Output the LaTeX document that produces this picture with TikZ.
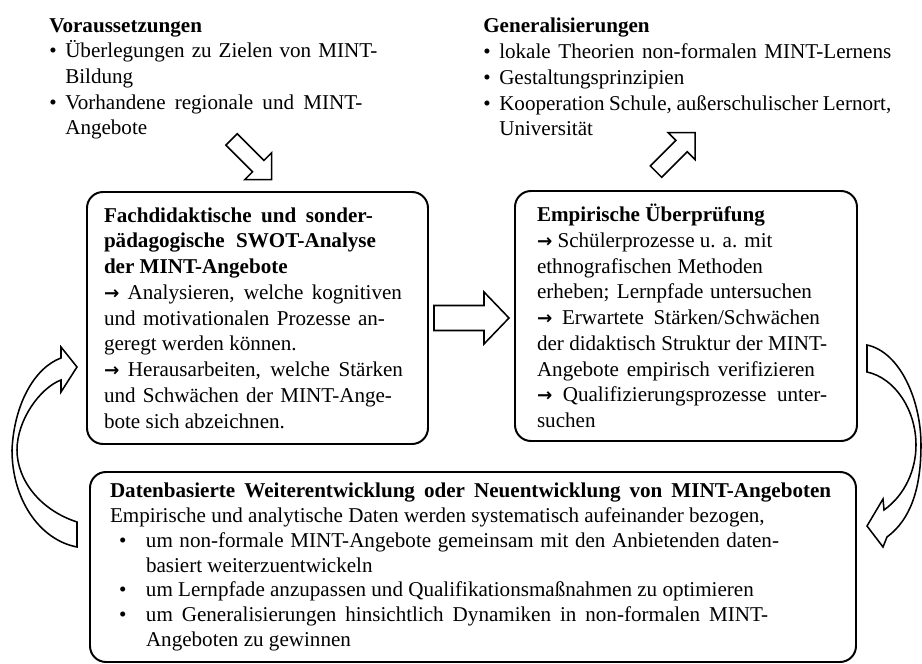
\documentclass[tikz,border=0pt]{standalone}
\usepackage{fontspec}
\setmainfont{Liberation Serif}
\newfontfamily\arrowfont{DejaVu Sans}
\usetikzlibrary{positioning, calc}

\newcommand{\jl}[2]{\leavevmode\hbox to #1{\spaceskip=0pt\xspaceskip=0pt #2}}
\newcommand{\rarr}{{\arrowfont\bfseries\fontsize{13}{13}\selectfont →}}
\newcommand{\bul}{\makebox[0.4cm][l]{\textbullet}}
\newcommand{\ind}{\hspace*{0.4cm}}
\newcommand{\bbul}{\hspace*{0.225cm}\makebox[0.675cm][l]{\textbullet}}
\newcommand{\bind}{\hspace*{0.9cm}}

\tikzset{
  mainbox/.style={draw, line width=1.4pt, rounded corners=0.4cm, align=justify, inner ysep=0pt},
  blockarrow/.style={draw, line width=1.1pt, fill=white, line join=miter},
  txt/.style={align=left, inner sep=0pt, anchor=north west}
}

\begin{document}
\begin{tikzpicture}[every node/.style={font=\fontsize{15}{18.3}\selectfont}]
  \useasboundingbox (0,0) rectangle (23.05,16.6);

  % Top text blocks
  \node[txt] (pre) at (1.225,16.15) {
    \textbf{Voraussetzungen}\\
    \bul\jl{7.8cm}{Überlegungen zu Zielen von MINT-}\\
    \ind Bildung\\
    \bul\jl{7.425cm}{Vorhandene regionale und MINT-}\\
    \ind Angebote};
  \node[txt] (gen) at (12.075,16.15) {
    \textbf{Generalisierungen}\\
    \bul\jl{9.8cm}{lokale Theorien non-formalen MINT-Lernens}\\
    \bul Gestaltungsprinzipien\\
    \bul\jl{9.8cm}{Kooperation Schule, außerschulischer Lernort,}\\
    \ind Universität};

  % Boxes
  \node[mainbox, text width=7.675cm, inner xsep=0.425cm, minimum height=6.3cm] (swot) at (6.4375,8.65) {
    \jl{6.725cm}{\bfseries Fachdidaktische und sonder-}\\
    \jl{6.8cm}{\bfseries pädagogische SWOT-Analyse}\\
    \textbf{der MINT-Angebote}\\
    \jl{7.45cm}{\rarr{} Analysieren, welche kognitiven}\\
    \jl{7.025cm}{und motivationalen Prozesse an-}\\
    geregt werden können.\\
    \jl{7.475cm}{\rarr{} Herausarbeiten, welche Stärken}\\
    \jl{7.2cm}{und Schwächen der MINT-Ange-}\\
    bote sich abzeichnen.};

  \node[mainbox, text width=7.45cm, inner xsep=0.55cm, minimum height=6.25cm] (emp) at (17.15,8.7) {
    \textbf{Empirische Überprüfung}\\
    \rarr{} Schülerprozesse u. a. mit\\
    \jl{5.65cm}{ethnografischen Methoden}\\
    \jl{6.875cm}{erheben; Lernpfade untersuchen}\\
    \jl{7.075cm}{\rarr{} Erwartete Stärken/Schwächen}\\
    \jl{7.25cm}{der didaktisch Struktur der MINT-}\\
    \jl{6.95cm}{Angebote empirisch verifizieren}\\
    \jl{7.25cm}{\rarr{} Qualifizierungsprozesse unter-}\\
    suchen};

  \node[mainbox, text width=18.15cm, inner xsep=0.5cm, minimum height=4.75cm,
        font=\fontsize{15}{17.6}\selectfont] (data) at (11.825,2.425) {
    \jl{18.03cm}{\bfseries Datenbasierte Weiterentwicklung oder Neuentwicklung von MINT-Angeboten}\\
    Empirische und analytische Daten werden systematisch aufeinander bezogen,\\
    \bbul\jl{15.825cm}{um non-formale MINT-Angebote gemeinsam mit den Anbietenden daten-}\\
    \bind basiert weiterzuentwickeln\\
    \bbul um Lernpfade anzupassen und Qualifikationsmaßnahmen zu optimieren\\
    \bbul\jl{15.55cm}{um Generalisierungen hinsichtlich Dynamiken in non-formalen MINT-}\\
    \bind Angeboten zu gewinnen};

  % Hollow arrows
  \draw[blockarrow, shift={($(swot.north)+(-0.65,1.29)$)}, rotate=-45]
    (0,0.2) -- (0.945,0.2) -- (0.945,0.475) -- (1.42,0) -- (0.945,-0.475) -- (0.945,-0.2) -- (0,-0.2) -- cycle;
  \draw[blockarrow, shift={($(emp.north)+(-0.75,0.46)$)}, rotate=45]
    (0,0.2) -- (0.905,0.2) -- (0.905,0.475) -- (1.38,0) -- (0.905,-0.475) -- (0.905,-0.2) -- (0,-0.2) -- cycle;
  \draw[blockarrow] ($(swot.east)+(0.125,0.3125)$) -- ++(1.25,0) -- ++(0,0.3375) -- ++(0.625,-0.65)
    -- ++(-0.625,-0.65) -- ++(0,0.3375) -- ++(-1.25,0) -- cycle;

  % Curved arrows
  \draw[blockarrow] (1.925,3.55) .. controls (1.0,3.85) and (0.425,4.6) .. (0.425,5.35)
    .. controls (0.425,6.1) and (1.0,6.9) .. (1.525,7.1)
    -- (1.525,6.8) -- (1.925,7.425) -- (1.525,7.925) -- (1.525,7.65)
    .. controls (0.85,7.4) and (0.35,6.475) .. (0.3,5.35)
    .. controls (0.3,4.1) and (1.0,3.1) .. (1.925,2.925) -- cycle;
  \draw[blockarrow] (21.675,7.975) -- (21.675,7.3)
    .. controls (22.375,7.15) and (22.9,6.35) .. (22.9,5.475)
    .. controls (22.9,4.85) and (22.625,4.225) .. (22.1,3.85)
    -- (22.075,4.125) -- (21.675,3.45) -- (22.075,2.925) -- (22.175,3.175)
    .. controls (22.75,3.6) and (23.025,4.35) .. (23.025,5.475)
    .. controls (23.025,6.6) and (22.5,7.8) .. (21.675,7.975) -- cycle;
\end{tikzpicture}
\end{document}
